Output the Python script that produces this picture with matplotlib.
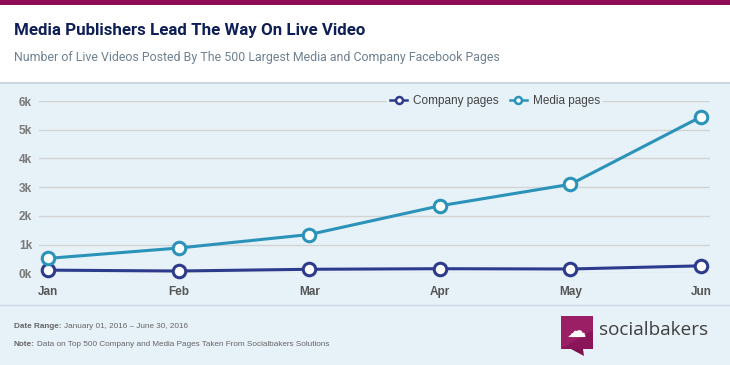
import matplotlib
matplotlib.use("Agg")
import matplotlib.pyplot as plt
from matplotlib.patches import Rectangle, Polygon
from matplotlib.lines import Line2D

months = ["Jan", "Feb", "Mar", "Apr", "May", "Jun"]
company_pages = [110, 80, 140, 160, 150, 260]
media_pages = [520, 880, 1350, 2350, 3100, 5450]
y_ticks = [0, 1000, 2000, 3000, 4000, 5000, 6000]
y_tick_labels = ["0k", "1k", "2k", "3k", "4k", "5k", "6k"]

W, H = 730, 365
fig = plt.figure(figsize=(W / 100, H / 100), dpi=100)
bg = "#E6F1F8"
fig.patch.set_facecolor(bg)
renderer = fig.canvas.get_renderer()

def fx(px):
    return px / W

def fy(py):
    return 1 - py / H

# header
fig.add_artist(Rectangle((0, fy(82)), 1, fy(0) - fy(82), transform=fig.transFigure,
                         facecolor="white", edgecolor="none", zorder=0))
fig.add_artist(Rectangle((0, fy(5)), 1, fy(0) - fy(5), transform=fig.transFigure,
                         facecolor="#8E0C55", edgecolor="none", zorder=1))
fig.add_artist(Rectangle((0, fy(84)), 1, fy(82) - fy(84), transform=fig.transFigure,
                         facecolor="#CAD6E0", edgecolor="none", zorder=1))
fig.text(fx(14), fy(31), "Media Publishers Lead The Way On Live Video", fontsize=12.2,
         fontweight="bold", color="#0E1E56", family="Roboto", va="center", ha="left")
fig.text(fx(14), fy(58), "Number of Live Videos Posted By The 500 Largest Media and Company Facebook Pages",
         fontsize=8.9, color="#6E8190", family="Roboto", va="center", ha="left")

# footer separator
fig.add_artist(Line2D([0, 1], [fy(305), fy(305)], transform=fig.transFigure, color="#CBD8E2", lw=1))

def label_line(y, bold, rest, size=5.9):
    t = fig.text(fx(14), fy(y), bold, fontsize=size, fontweight="bold", color="#666666",
                 family="Liberation Sans", va="center")
    bb = t.get_window_extent(renderer)
    fig.text(bb.x1 / W + fx(2.5), fy(y), rest, fontsize=size, color="#666666",
             family="Liberation Sans", va="center")

label_line(326, "Date Range:", "January 01, 2016 – June 30, 2016")
label_line(344, "Note:", "Data on Top 500 Company and Media Pages Taken From Socialbakers Solutions")

# logo
fig.add_artist(Rectangle((fx(561), fy(349)), fx(593) - fx(561), fy(316) - fy(349),
                         transform=fig.transFigure, facecolor="#9B1F65", edgecolor="none"))
fig.add_artist(Polygon([(fx(571), fy(349)), (fx(583), fy(349)), (fx(584), fy(356))],
                       closed=True, transform=fig.transFigure, facecolor="#7E1250", edgecolor="none"))
fig.add_artist(Polygon([(fx(561), fy(349)), (fx(593), fy(349)), (fx(593), fy(330))],
                       closed=True, transform=fig.transFigure, facecolor="#8A1659", edgecolor="none"))
fig.text(fx(577), fy(331), "☁", fontsize=14, color="white", ha="center", va="center",
         family="DejaVu Sans")
fig.text(fx(599), fy(330), "socialbakers", fontsize=13.6, color="#3F3F3F",
         family="Open Sans", va="center", ha="left")

# axes
ax = fig.add_axes([fx(39), fy(273.3), fx(710) - fx(39), fy(101) - fy(273.3)])
ax.set_facecolor(bg)
x = list(range(len(months)))
ax.set_xlim(-9 / 130.6, 5 + 9 / 130.6)
ax.set_ylim(0, 6000)
for s in ax.spines.values():
    s.set_visible(False)
ax.set_yticks(y_ticks)
ax.set_yticklabels(y_tick_labels)
ax.set_xticks(x)
ax.set_xticklabels(months)
ax.tick_params(length=0)
ax.tick_params(axis="y", pad=5, labelsize=8.5, labelcolor="#7A7A7A")
ax.tick_params(axis="x", pad=9, labelsize=8.5, labelcolor="#555555")
for lab in ax.get_yticklabels() + ax.get_xticklabels():
    lab.set_fontweight("bold")
    lab.set_family("Liberation Sans")
ax.grid(axis="y", color="#D3D3D3", lw=1)
ax.set_axisbelow(True)

ax.plot(x, company_pages, color="#2E3B8C", lw=2.2, marker="o", ms=9, mfc="white",
        mec="#2E3B8C", mew=2.2, label="Company pages", clip_on=False, zorder=3)
ax.plot(x, media_pages, color="#2B93B9", lw=2.2, marker="o", ms=9, mfc="white",
        mec="#2B93B9", mew=2.2, label="Media pages", clip_on=False, zorder=3)

leg = ax.legend(loc="center", bbox_to_anchor=((495 - 39) / 671, 1.0), ncol=2, frameon=True,
                facecolor=bg, edgecolor="none", framealpha=1, handlelength=1.4,
                columnspacing=1.0, handletextpad=0.5, borderpad=0.3,
                prop={"family": "Liberation Sans", "size": 8.5})
for t in leg.get_texts():
    t.set_color("#444444")
for h in leg.legend_handles:
    h.set_markersize(5)
    h.set_markeredgewidth(1.8)
    h.set_linewidth(1.8)

fig.savefig("out.png", dpi=100, facecolor=bg)
